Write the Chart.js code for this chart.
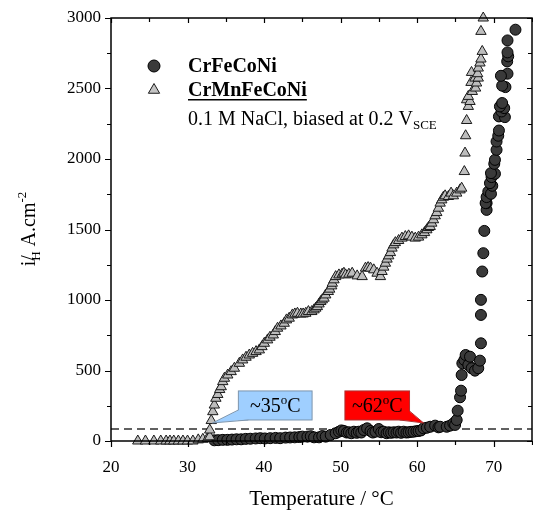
<!DOCTYPE html>
<html>
<head>
<meta charset="utf-8">
<script src="https://cdn.jsdelivr.net/npm/chart.js@4.4.0/dist/chart.umd.min.js"></script>
<style>
  html, body { margin: 0; padding: 0; background: #fff; }
  canvas { display: block; }
</style>
</head>
<body>
<canvas id="chart" width="533" height="522"></canvas>
<script>
// [temperature °C, current density]
const crFeCoNi = [
  [33.5,5],[34.0,6],[34.6,8],[35.2,8],[35.8,10],[36.4,12],[37.0,12],[37.6,15],[38.2,16],[38.9,18],
  [39.5,20],[40.1,18],[40.8,20],[41.5,22],[42.1,20],[42.8,24],[43.4,25],[44.0,26],[44.6,28],[45.0,31],
  [45.66,31],[46.1,34],[46.53,26],[47.18,26],[47.6,35],[48.05,31],[48.7,43],[49.35,55],[49.78,66],[50.1,75],
  [50.43,71],[50.8,60],[51.08,62],[51.4,55],[51.73,66],[52.1,58],[52.38,66],[52.7,60],[53.03,78],[53.46,90],
  [53.9,71],[54.2,60],[54.55,66],[54.98,85],[55.3,62],[55.63,66],[56.0,55],[56.28,62],[56.6,58],[56.93,62],
  [57.3,60],[57.58,66],[57.9,58],[58.23,66],[58.6,60],[58.88,62],[59.2,65],[59.53,66],[59.9,70],[60.18,71],
  [60.5,75],[60.83,90],[61.26,94],[61.7,101],[62.35,109],[62.78,97],[63.0,101],[63.86,101],[64.3,109],[64.73,125],
  [64.95,114],[65.16,149],[65.29,215],[65.6,310],[65.73,357],[65.81,468],[65.9,551],[66.16,575],[66.33,610],[66.68,539],
  [66.9,598],[67.12,516],[67.55,499],[67.98,516],[68.2,570],[68.33,693],[68.33,894],[68.33,1001],[68.5,1202],[68.64,1332],
  [68.77,1490],[69.07,1639],[69.07,1687],[68.94,1687],[69.07,1730],[69.29,1769],[69.64,1753],[69.81,1810],[69.51,1829],[69.72,1872],
  [70.16,1895],[69.64,1900],[70.07,1966],[70.16,1994],[70.37,2065],[70.37,2124],[70.59,2165],[70.68,2202],[70.68,2302],[71.46,2297],
  [71.02,2337],[71.37,2361],[70.81,2373],[71.1,2397],[71.53,2510],[71.1,2520],[71.8,2605],[70.94,2590],[71.76,2692],[71.89,2728],
  [71.8,2756],[71.8,2841],[72.84,2917]
];

const crMnFeCoNi = [
  [23.5,0],[24.5,0],[25.6,0],[26.5,0],[27.2,0],[27.7,0],[28.2,0],[28.8,0],[29.4,0],[30.0,0],
  [30.7,0],[31.4,8],[32.0,12],[32.6,18],[32.9,30],
  [32.9,78],[33.1,145],[33.3,208],[33.5,255],[33.7,303],[33.95,330],[34.2,365],[34.4,385],[34.6,421],[34.82,445],
  [35.25,468],[35.7,492],[36.12,516],[36.77,551],[37.2,575],[37.64,594],[38.07,610],[38.5,622],[38.95,634],[39.38,646],
  [39.72,669],[40.03,693],[40.46,717],[40.77,736],[41.2,752],[41.46,776],[41.76,800],[42.2,816],[42.63,835],[42.93,859],
  [43.28,871],[43.7,894],[44.02,901],[44.36,906],[44.8,901],[45.1,901],[45.45,906],[45.79,918],[46.23,918],[46.53,930],
  [46.75,942],[46.96,953],[47.18,972],[47.4,989],[47.6,1001],[47.83,1013],[48.05,1036],[48.39,1060],[48.57,1077],[48.83,1100],
  [48.91,1119],[49.13,1143],[49.35,1166],[49.78,1178],[50.2,1183],[50.43,1190],[50.65,1178],[51.08,1183],[51.51,1190],[52.16,1171],
  [52.81,1166],[53.25,1226],[53.59,1230],[53.9,1226],[54.33,1214],[54.76,1190],[55.2,1166],[55.41,1202],[55.63,1233],[55.85,1261],
  [56.06,1290],[56.28,1313],[56.5,1336],[56.71,1368],[56.93,1391],[57.15,1407],[57.58,1422],[58.01,1439],[58.45,1450],[58.88,1455],
  [59.31,1446],[59.75,1439],[60.18,1446],[60.61,1462],[60.96,1478],[61.26,1498],[61.48,1514],[61.7,1521],[61.91,1545],[62.13,1569],
  [62.35,1597],[62.56,1620],[62.78,1651],[63.0,1687],[63.21,1710],[63.43,1729],[63.65,1739],[64.08,1734],[64.43,1758],[64.73,1739],
  [65.16,1758],[65.6,1781],[65.81,1793],[66.16,1911],[66.25,2042],[66.33,2165],[66.46,2273],[66.68,2373],[66.46,2420],[66.9,2408],
  [66.68,2444],[67.2,2479],[67.63,2503],[67.03,2543],[67.76,2539],[67.55,2574],[67.98,2574],[67.1,2614],[67.9,2605],[67.98,2645],
  [68.2,2681],[68.33,2709],[68.5,2763],[68.33,2905],[68.63,3000]
];

const threshold = 85;
const xTicks = [20, 30, 40, 50, 60, 70];
const yTicks = [0, 500, 1000, 1500, 2000, 2500, 3000];

// onset callouts: label, tip point, box corners (data units)
const onsets = [
  { text: '~35', tip: [33.26, 128], box: [36.64, 46.27, 355, 149], fill: '#9fcfff', stroke: '#7d95ad', side: 'left' },
  { text: '~62', tip: [60.83, 128], box: [50.56, 59.0, 355, 149], fill: '#ff0000', stroke: '#b03030', side: 'right' }
];

const SERIF = "'Liberation Serif', 'Times New Roman', serif";
const toXY = pts => pts.map(p => ({ x: p[0], y: p[1] }));

// box frame with outward ticks bottom/left and inward ticks top/right
const frame = {
  id: 'frame',
  afterDraw(chart) {
    const { ctx, chartArea: a, scales: { x, y } } = chart;
    ctx.save();
    ctx.strokeStyle = '#000';
    ctx.lineWidth = 1.5;
    ctx.strokeRect(a.left, a.top, a.right - a.left, a.bottom - a.top);
    ctx.lineWidth = 1.2;
    ctx.beginPath();
    for (let v = 20; v <= 75; v += 5) {
      const px = Math.round(x.getPixelForValue(v)) + 0.5;
      const major = v % 10 === 0;
      ctx.moveTo(px, a.bottom); ctx.lineTo(px, a.bottom + (major ? 6 : 4));
      ctx.moveTo(px, a.top); ctx.lineTo(px, a.top + (major ? 5 : 4));
    }
    for (let v = 0; v <= 3000; v += 250) {
      const py = Math.round(y.getPixelForValue(v)) + 0.5;
      const major = v % 500 === 0;
      ctx.moveTo(a.left, py); ctx.lineTo(a.left - (major ? 6 : 4), py);
      ctx.moveTo(a.right, py); ctx.lineTo(a.right - (major ? 5 : 4), py);
    }
    ctx.stroke();

    // axis titles
    ctx.fillStyle = '#000';
    ctx.textBaseline = 'alphabetic';
    ctx.font = '21px ' + SERIF;
    ctx.textAlign = 'center';
    ctx.fillText('Temperature / °C', (a.left + a.right) / 2, 505);

    ctx.translate(35, 229);
    ctx.rotate(-Math.PI / 2);
    const big = '20px ' + SERIF, small = '13px ' + SERIF;
    ctx.font = big;
    const wI = ctx.measureText('i').width;
    const wSl = ctx.measureText('/').width;
    const wMain = ctx.measureText(' A.cm').width;
    ctx.font = small;
    const wH = ctx.measureText('H').width;
    const wExp = ctx.measureText('-2').width;
    const total = wI + Math.max(wSl, wH) + wMain + wExp;
    let cx = -total / 2;
    ctx.textAlign = 'left';
    ctx.font = big;
    ctx.fillText('i', cx, 0); cx += wI;
    ctx.fillText('/', cx, 0);
    ctx.font = small;
    ctx.fillText('H', cx, 5);
    cx += Math.max(wSl, wH);
    ctx.font = big;
    ctx.fillText(' A.cm', cx, 0); cx += wMain;
    ctx.font = small;
    ctx.fillText('-2', cx, -9);
    ctx.restore();
  }
};

// series key and conditions text
const key = {
  id: 'key',
  afterDraw(chart) {
    const { ctx } = chart;
    ctx.save();
    ctx.lineWidth = 1;
    ctx.fillStyle = '#3a3a3a'; ctx.strokeStyle = '#000';
    ctx.beginPath(); ctx.arc(154, 66, 6, 0, Math.PI * 2); ctx.fill(); ctx.stroke();
    const r = 6.5;
    ctx.fillStyle = '#c4c4c4'; ctx.strokeStyle = '#1a1a1a';
    ctx.beginPath();
    for (let k = 0; k < 3; k++) {
      const ang = k * 2 * Math.PI / 3;
      const px = 154 + Math.sin(ang) * r, py = 90 - Math.cos(ang) * r;
      k ? ctx.lineTo(px, py) : ctx.moveTo(px, py);
    }
    ctx.closePath(); ctx.fill(); ctx.stroke();

    ctx.fillStyle = '#000';
    ctx.textAlign = 'left';
    ctx.textBaseline = 'alphabetic';
    ctx.font = 'bold 20px ' + SERIF;
    ctx.fillText('CrFeCoNi', 188, 72);
    ctx.fillText('CrMnFeCoNi', 188, 96);
    const w = ctx.measureText('CrMnFeCoNi').width;
    ctx.fillRect(188, 99, w, 1.5);
    ctx.font = '20px ' + SERIF;
    const line = '0.1 M NaCl, biased at 0.2 V';
    ctx.fillText(line, 188, 125);
    const lw = ctx.measureText(line).width;
    ctx.font = '13px ' + SERIF;
    ctx.fillText('SCE', 188 + lw, 129);
    ctx.restore();
  }
};

// onset callouts with pointer wedges
const callouts = {
  id: 'callouts',
  afterDatasetsDraw(chart) {
    const { ctx, scales: { x, y } } = chart;
    ctx.save();
    onsets.forEach(o => {
      const x1 = x.getPixelForValue(o.box[0]), x2 = x.getPixelForValue(o.box[1]);
      const y1 = y.getPixelForValue(o.box[2]), y2 = y.getPixelForValue(o.box[3]);
      const tx = x.getPixelForValue(o.tip[0]), ty = y.getPixelForValue(o.tip[1]);
      ctx.fillStyle = o.fill;
      ctx.strokeStyle = o.stroke;
      ctx.lineWidth = 1;
      ctx.fillRect(x1, y1, x2 - x1, y2 - y1);
      ctx.strokeRect(x1, y1, x2 - x1, y2 - y1);
      ctx.beginPath();
      if (o.side === 'left') {
        ctx.moveTo(x1 + 0.5, y2 - 10); ctx.lineTo(tx, ty); ctx.lineTo(x1 + 10, y2 - 0.5);
      } else {
        ctx.moveTo(x2 - 10, y2 - 0.5); ctx.lineTo(tx, ty); ctx.lineTo(x2 - 0.5, y2 - 9);
      }
      ctx.closePath();
      ctx.fill();
      ctx.beginPath();
      if (o.side === 'left') {
        ctx.moveTo(x1, y2 - 10); ctx.lineTo(tx, ty); ctx.lineTo(x1 + 10, y2);
      } else {
        ctx.moveTo(x2 - 10, y2); ctx.lineTo(tx, ty); ctx.lineTo(x2, y2 - 9);
      }
      ctx.stroke();

      const big = '20px ' + SERIF, small = '13px ' + SERIF;
      ctx.font = big;
      const wa = ctx.measureText(o.text).width, wc = ctx.measureText('C').width;
      ctx.font = small;
      const wo = ctx.measureText('o').width;
      let cx = (x1 + x2) / 2 - (wa + wo + wc) / 2;
      const base = (y1 + y2) / 2 + 7;
      ctx.fillStyle = '#000';
      ctx.textAlign = 'left';
      ctx.font = big; ctx.fillText(o.text, cx, base); cx += wa;
      ctx.font = small; ctx.fillText('o', cx, base - 8); cx += wo;
      ctx.font = big; ctx.fillText('C', cx, base);
    });
    ctx.restore();
  }
};

new Chart(document.getElementById('chart'), {
  type: 'scatter',
  data: {
    datasets: [
      {
        label: 'CrMnFeCoNi',
        data: toXY(crMnFeCoNi),
        pointStyle: 'triangle',
        pointRadius: 6,
        backgroundColor: '#bdbdbd',
        borderColor: '#1a1a1a',
        borderWidth: 1,
        clip: false,
        order: 1
      },
      {
        label: 'CrFeCoNi',
        data: toXY(crFeCoNi),
        pointStyle: 'circle',
        pointRadius: 5.5,
        backgroundColor: '#3a3a3a',
        borderColor: '#000',
        borderWidth: 1,
        clip: false,
        order: 2
      },
      {
        label: 'threshold',
        type: 'line',
        data: [{ x: 20, y: threshold }, { x: 75, y: threshold }],
        borderColor: '#2e2e2e',
        borderWidth: 1.3,
        borderDash: [8, 5],
        pointRadius: 0,
        order: 3
      }
    ]
  },
  options: {
    responsive: false,
    animation: false,
    layout: { autoPadding: false, padding: { top: 18, right: 1, left: 0, bottom: 0 } },
    plugins: { legend: { display: false }, tooltip: { enabled: false } },
    scales: {
      x: {
        type: 'linear',
        min: 20,
        max: 75,
        afterBuildTicks: s => { s.ticks = xTicks.map(v => ({ value: v })); },
        afterFit: s => { s.height = 81; s.paddingLeft = 0; s.paddingRight = 0; },
        grid: { display: false, drawTicks: false },
        border: { display: false },
        ticks: { font: { family: SERIF, size: 17 }, color: '#000', padding: 16, maxRotation: 0, callback: v => String(v) }
      },
      y: {
        min: 0,
        max: 3000,
        afterBuildTicks: s => { s.ticks = yTicks.map(v => ({ value: v })); },
        afterFit: s => { s.width = 111; s.paddingTop = 0; s.paddingBottom = 0; },
        grid: { display: false, drawTicks: false },
        border: { display: false },
        ticks: { font: { family: SERIF, size: 17 }, color: '#000', padding: 10, callback: v => String(v) }
      }
    }
  },
  plugins: [frame, key, callouts]
});
</script>
</body>
</html>
